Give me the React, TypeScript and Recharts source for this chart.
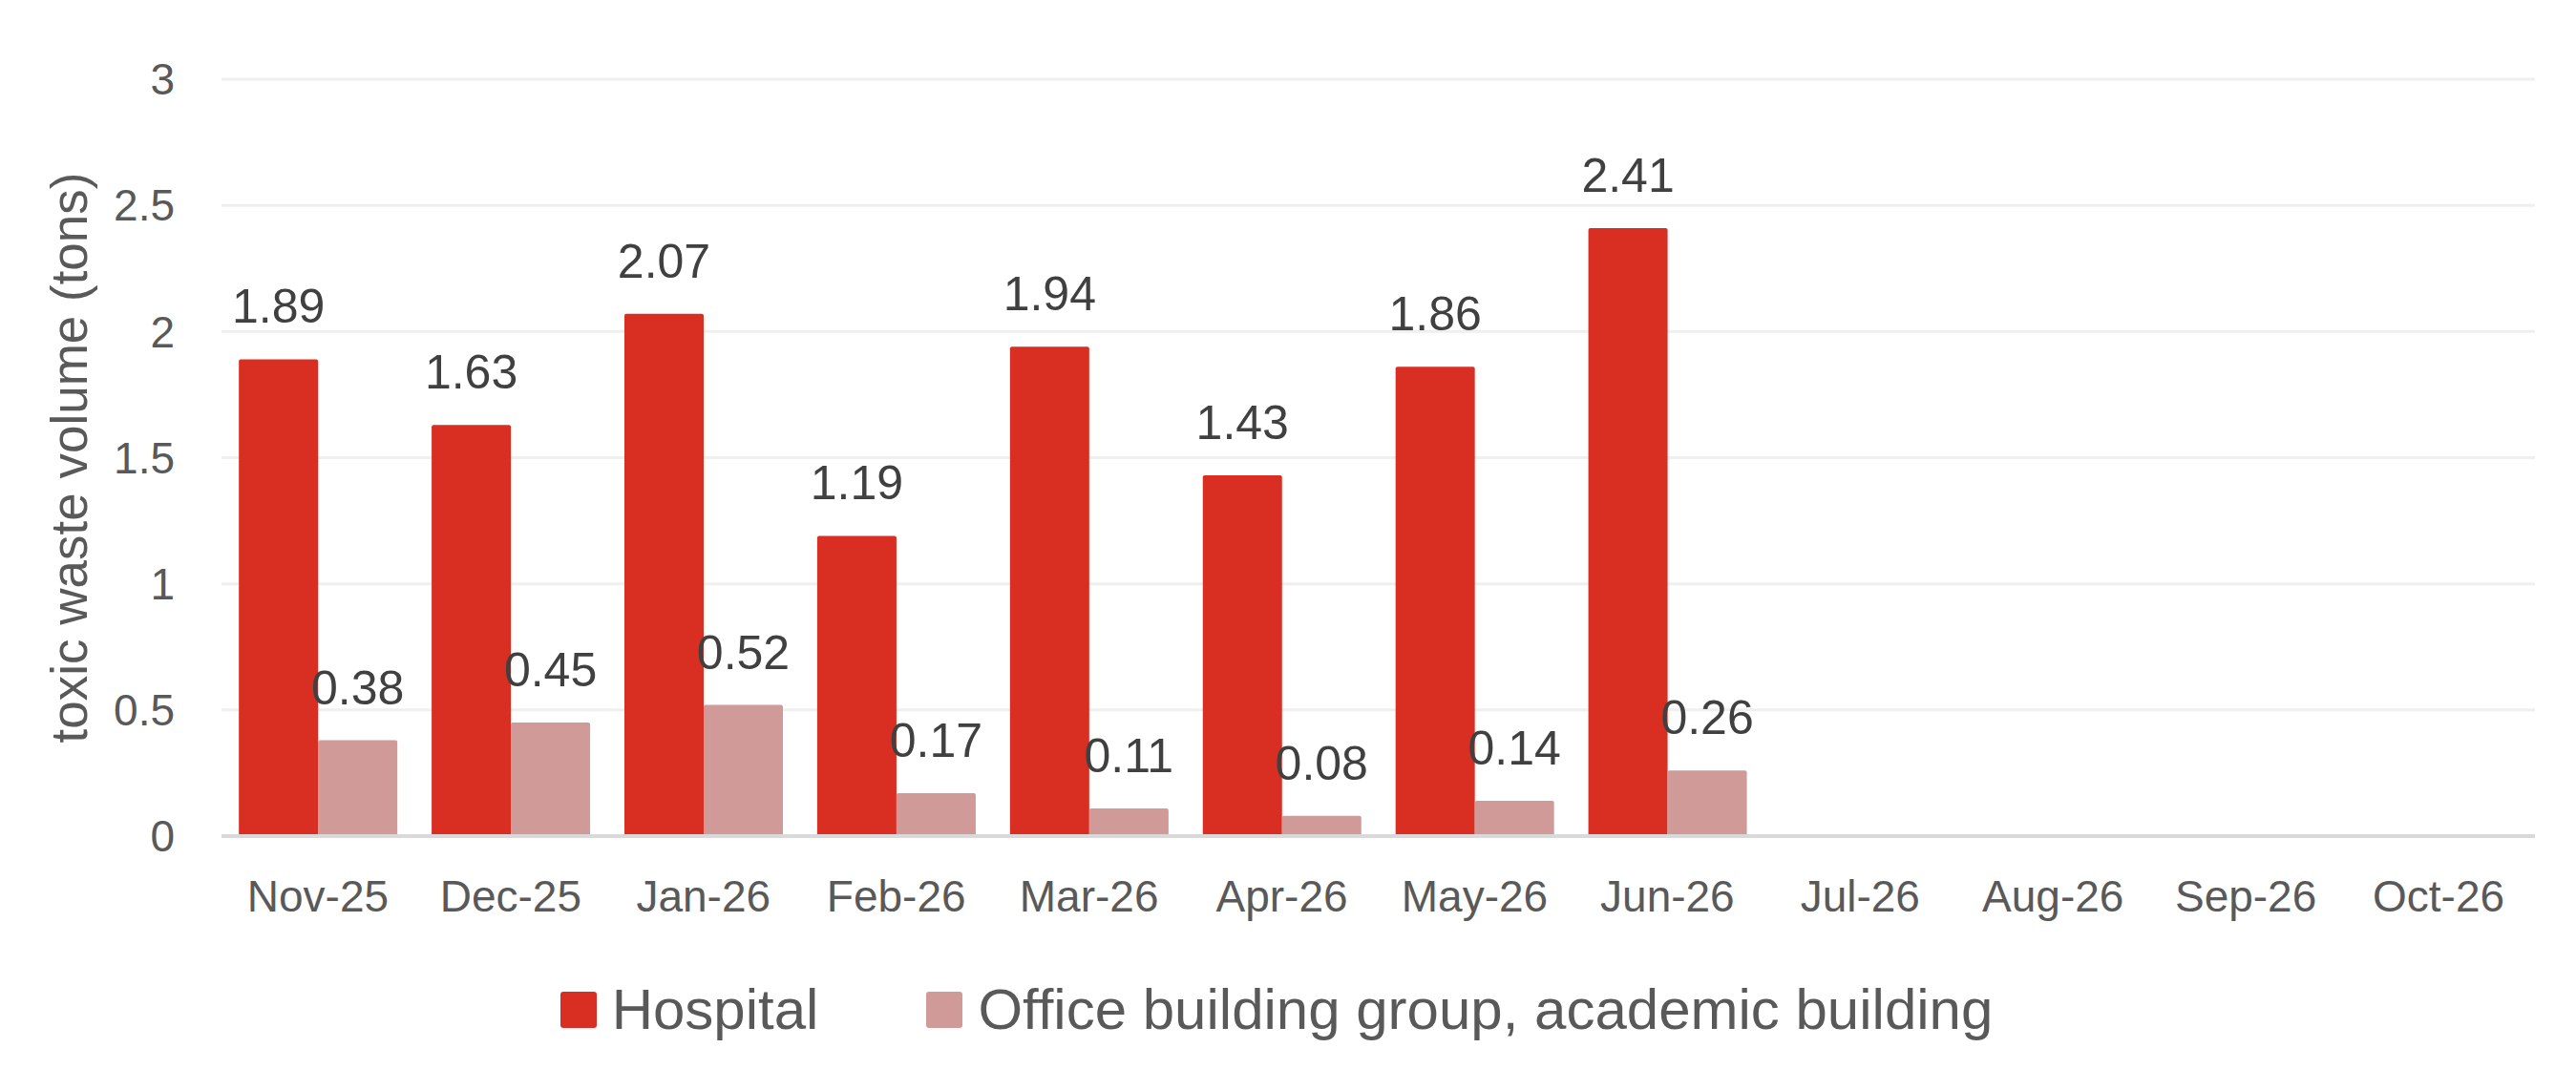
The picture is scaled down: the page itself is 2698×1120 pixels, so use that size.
import { BarChart, Bar, XAxis, YAxis, CartesianGrid, Legend, LabelList } from 'recharts';

const months = ['Nov-25', 'Dec-25', 'Jan-26', 'Feb-26', 'Mar-26', 'Apr-26', 'May-26', 'Jun-26', 'Jul-26', 'Aug-26', 'Sep-26', 'Oct-26'];
const hospital = [1.89, 1.63, 2.07, 1.19, 1.94, 1.43, 1.86, 2.41, null, null, null, null];
const office = [0.38, 0.45, 0.52, 0.17, 0.11, 0.08, 0.14, 0.26, null, null, null, null];
const yTicks = [0, 0.5, 1, 1.5, 2, 2.5, 3];

const seriesNames = ['Hospital', 'Office building group, academic building'];
const colors = ['#D92E22', '#CF9A97'];

const data = months.map((m, i) => ({ month: m, hospital: hospital[i], office: office[i] }));

const FONT = '"Liberation Sans", Arial, sans-serif';

function LegendContent() {
  return (
    <div style={{ display: 'flex', justifyContent: 'center', alignItems: 'center', height: 84, fontFamily: FONT }}>
      {seriesNames.map((name, i) => (
        <div key={name} style={{ display: 'flex', alignItems: 'center', marginLeft: i === 0 ? 0 : 113 }}>
          <div style={{ width: 38, height: 38, background: colors[i], borderRadius: 3 }} />
          <span style={{ marginLeft: 16, fontSize: 60, color: '#595959', lineHeight: 1 }}>{name}</span>
        </div>
      ))}
    </div>
  );
}

const fmt = (v: unknown) => (v === null || v === undefined ? '' : String(v));

export default function App() {
  return (
    <div style={{ position: 'fixed', left: 0, top: 0, background: '#fff' }}>
      <BarChart
        width={2698}
        height={1120}
        data={data}
        margin={{ top: 83, right: 43, left: 0, bottom: 20 }}
        barCategoryGap="9%"
        barGap={0}
        style={{ fontFamily: FONT }}
      >
        <CartesianGrid vertical={false} stroke="#EFEFEF" strokeWidth={3} />
        <XAxis
          dataKey="month"
          height={140}
          tickLine={false}
          tickSize={0}
          tickMargin={46}
          axisLine={{ stroke: '#D9D9D9', strokeWidth: 4 }}
          tick={{ fontSize: 46, fill: '#595959' }}
          interval={0}
        />
        <YAxis
          width={232}
          domain={[0, 3]}
          ticks={yTicks}
          axisLine={false}
          tickLine={false}
          tickSize={0}
          tickMargin={49}
          tick={{ fontSize: 46, fill: '#595959' }}
          label={{
            content: (props: any) => {
              const vb = props.viewBox || { x: 0, y: 83, height: 793 };
              const cx = vb.x + 72;
              const cy = vb.y + vb.height / 2;
              return (
                <text
                  x={cx}
                  y={cy}
                  transform={`rotate(-90 ${cx} ${cy})`}
                  textAnchor="middle"
                  dominantBaseline="central"
                  fontSize={53}
                  fill="#595959"
                  fontFamily={FONT}
                >
                  toxic waste volume (tons)
                </text>
              );
            },
          }}
        />
        <Legend
          verticalAlign="bottom"
          height={84}
          content={() => <LegendContent />}
          wrapperStyle={{ left: 0, width: 2674 }}
        />
        <Bar dataKey="hospital" name={seriesNames[0]} fill={colors[0]} radius={[2, 2, 0, 0]} isAnimationActive={false}>
          <LabelList dataKey="hospital" position="top" offset={38} formatter={fmt} style={{ fontSize: 50, fill: '#404040' }} />
        </Bar>
        <Bar dataKey="office" name={seriesNames[1]} fill={colors[1]} radius={[2, 2, 0, 0]} isAnimationActive={false}>
          <LabelList dataKey="office" position="top" offset={38} formatter={fmt} style={{ fontSize: 50, fill: '#404040' }} />
        </Bar>
      </BarChart>
    </div>
  );
}
